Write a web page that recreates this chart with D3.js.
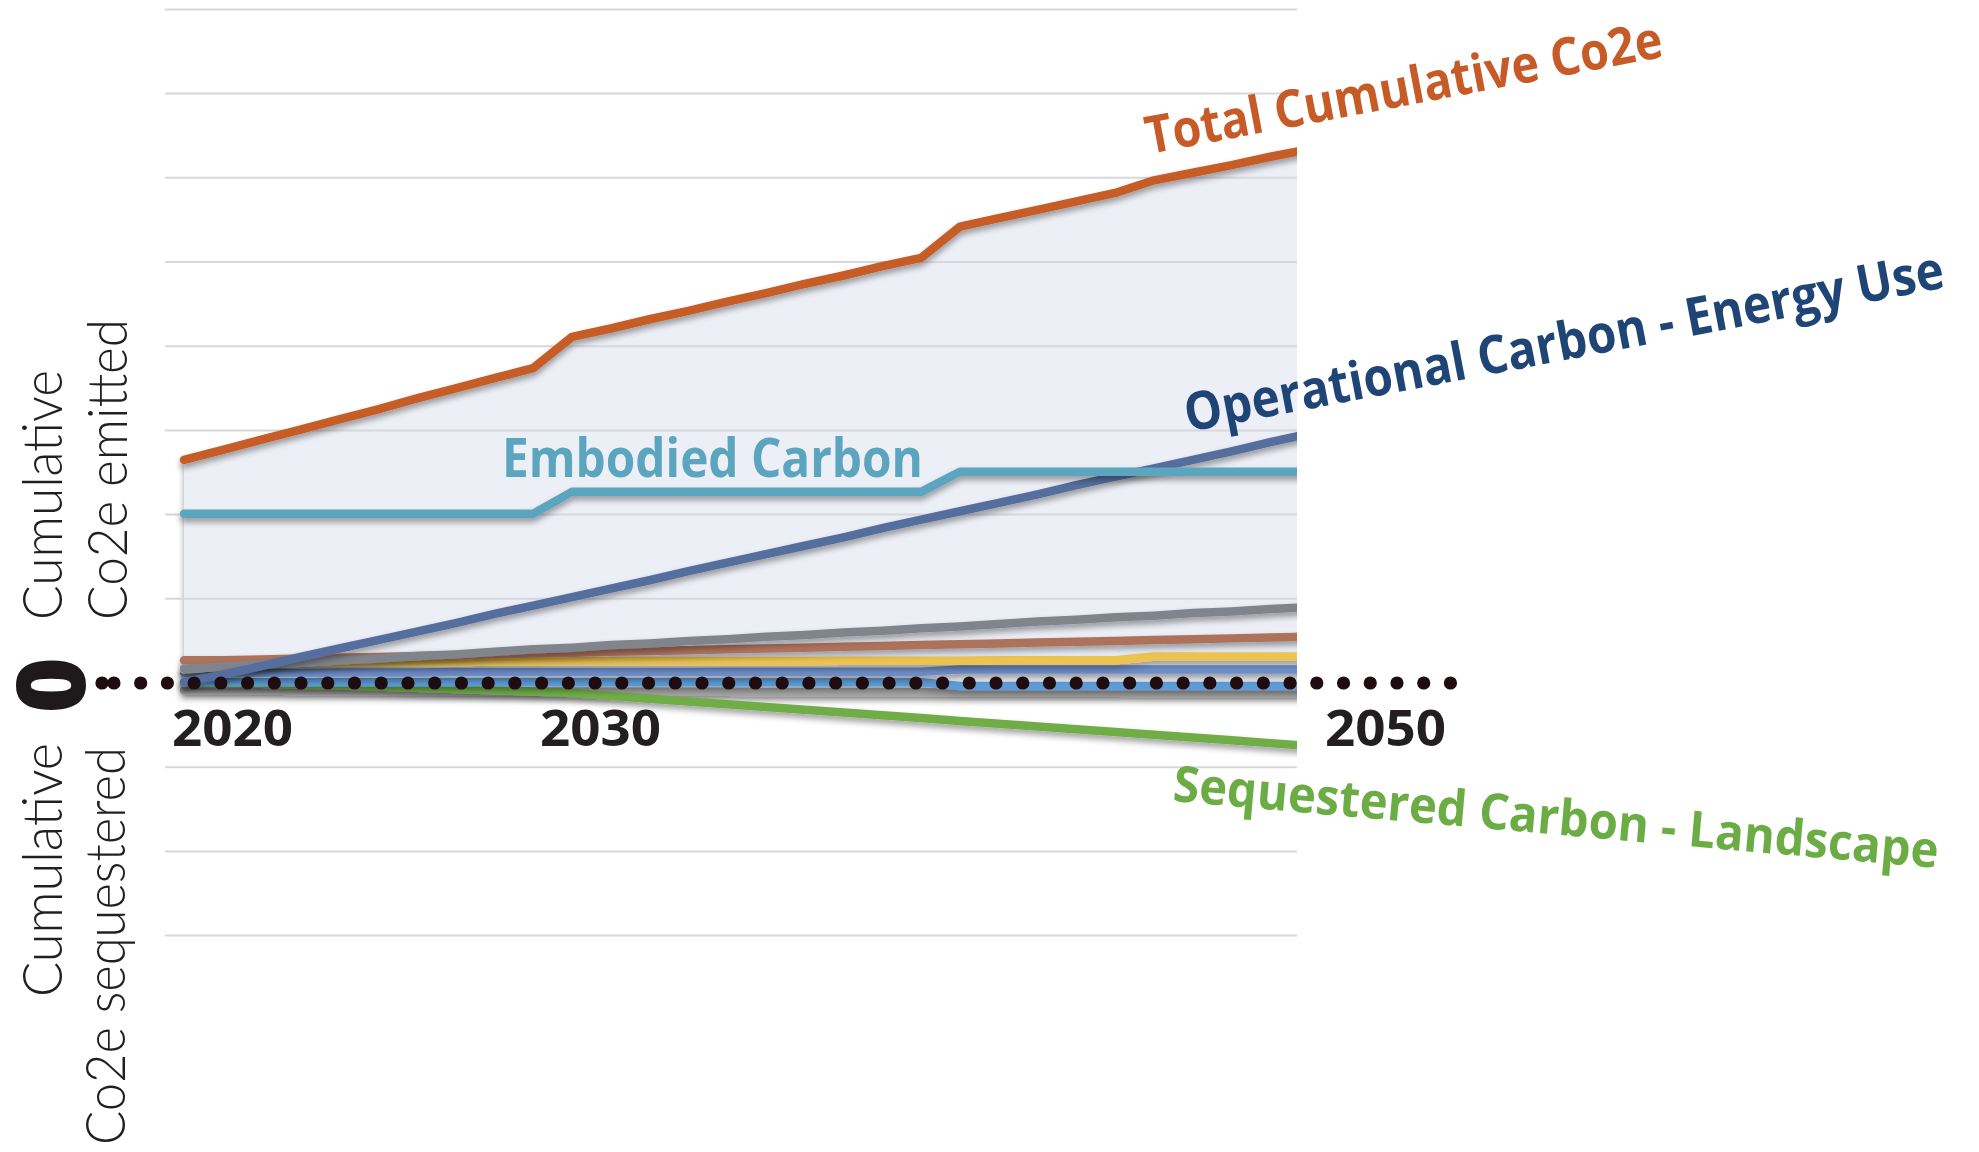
<!DOCTYPE html>
<html>
<head>
<meta charset="utf-8">
<script src="https://cdn.jsdelivr.net/npm/d3@7"></script>
<style>
  html, body { margin: 0; padding: 0; background: #ffffff; }
  svg { display: block; }
</style>
</head>
<body>
<svg id="chart" width="1979" height="1152"></svg>
<script>
// Yearly cumulative CO2e by source (arbitrary units, one gridline = 10)
const years = [2020, 2021, 2022, 2023, 2024, 2025, 2026, 2027, 2028, 2029,
               2030, 2031, 2032, 2033, 2034, 2035, 2036, 2037, 2038, 2039,
               2040, 2041, 2042, 2043, 2044, 2045, 2046, 2047, 2048, 2049];

const totalCumulative = [26.5, 27.7, 28.9, 30.1, 31.3, 32.5, 33.8, 35.0, 36.2, 37.4,
                         41.1, 42.1, 43.2, 44.2, 45.3, 46.3, 47.4, 48.4, 49.5, 50.5,
                         54.2, 55.2, 56.2, 57.2, 58.2, 59.7, 60.6, 61.5, 62.5, 63.4];

const embodiedCarbon = [20.1, 20.1, 20.1, 20.1, 20.1, 20.1, 20.1, 20.1, 20.1, 20.1,
                        22.7, 22.7, 22.7, 22.7, 22.7, 22.7, 22.7, 22.7, 22.7, 22.7,
                        25.1, 25.1, 25.1, 25.1, 25.1, 25.1, 25.1, 25.1, 25.1, 25.1];

const operationalEnergy = [0.1, 1.0, 2.0, 3.1, 4.1, 5.1, 6.1, 7.1, 8.2, 9.2,
                           10.2, 11.2, 12.2, 13.3, 14.3, 15.3, 16.3, 17.3, 18.4, 19.4,
                           20.4, 21.4, 22.4, 23.5, 24.5, 25.5, 26.5, 27.5, 28.6, 29.6];

const otherGray = [1.7, 1.9, 2.2, 2.4, 2.7, 2.9, 3.2, 3.4, 3.7, 4.0,
                   4.2, 4.5, 4.7, 5.0, 5.2, 5.5, 5.7, 6.0, 6.2, 6.5,
                   6.7, 7.0, 7.3, 7.5, 7.8, 8.0, 8.3, 8.5, 8.8, 9.0];

const otherBrown = [2.7, 2.7, 2.8, 2.9, 3.0, 3.1, 3.2, 3.3, 3.4, 3.5,
                    3.6, 3.7, 3.8, 3.9, 4.0, 4.1, 4.2, 4.3, 4.4, 4.5,
                    4.6, 4.7, 4.8, 4.9, 5.0, 5.1, 5.2, 5.3, 5.4, 5.5];

const otherYellow = [1.6, 2.0, 2.3, 2.4, 2.45, 2.5, 2.5, 2.5, 2.55, 2.55,
                     2.6, 2.6, 2.6, 2.6, 2.6, 2.6, 2.6, 2.65, 2.65, 2.65,
                     2.65, 2.7, 2.7, 2.7, 2.7, 3.15, 3.15, 3.15, 3.15, 3.15];

const otherBlue = [1.2, 1.2, 1.2, 1.2, 1.25, 1.25, 1.25, 1.3, 1.3, 1.3,
                   1.3, 1.3, 1.3, 1.3, 1.35, 1.35, 1.35, 1.35, 1.35, 1.35,
                   1.6, 1.6, 1.6, 1.6, 1.6, 1.6, 1.6, 1.6, 1.6, 1.6];

const otherLightBlue = [0.1, 0.1, 0.1, 0.1, 0.1, 0.1, 0.1, 0.1, 0.1, 0.1,
                        0.1, 0.1, 0.1, 0.1, 0.1, 0.1, 0.1, 0.1, 0.1, 0.1,
                        -0.35, -0.35, -0.35, -0.35, -0.35, -0.35, -0.35, -0.35, -0.35, -0.35];

const otherLightGray = [-0.9, -0.9, -0.9, -0.95, -0.95, -0.95, -1.0, -1.0, -1.0, -1.0,
                        -1.0, -1.05, -1.05, -1.05, -1.05, -1.1, -1.1, -1.1, -1.1, -1.1,
                        -1.15, -1.15, -1.15, -1.15, -1.15, -1.2, -1.2, -1.2, -1.2, -1.2];

const sequesteredLandscape = [0.0, -0.05, -0.1, -0.2, -0.3, -0.42, -0.56, -0.7, -0.85, -1.02,
                              -1.2, -1.53, -1.86, -2.19, -2.52, -2.85, -3.18, -3.51, -3.84, -4.17,
                              -4.5, -4.83, -5.16, -5.49, -5.82, -6.15, -6.48, -6.81, -7.14, -7.47];

const gridValues = [80, 70, 60, 50, 40, 30, 20, 10, -10, -20, -30];
const tickYears = ["2020", "2030", "2050"];

// ---------------------------------------------------------------------------
const svg = d3.select("#chart");

const x = d3.scaleLinear().domain([2020, 2049]).range([184, 1309.2]);
const y = d3.scaleLinear().domain([-30, 80]).range([935.6, 9.4]);
const plotRight = 1297;
const gridLeft = 165;

const defs = svg.append("defs");
defs.append("clipPath").attr("id", "plotClip")
  .append("rect").attr("x", 0).attr("y", 0).attr("width", plotRight).attr("height", 1152);

const shadow = defs.append("filter").attr("id", "shadow")
  .attr("filterUnits", "userSpaceOnUse")
  .attr("x", 0).attr("y", 0).attr("width", 1979).attr("height", 1152);
shadow.append("feGaussianBlur").attr("in", "SourceAlpha").attr("stdDeviation", 3).attr("result", "blur");
shadow.append("feOffset").attr("in", "blur").attr("dy", 4).attr("result", "off");
shadow.append("feComponentTransfer").attr("in", "off").attr("result", "soft")
  .append("feFuncA").attr("type", "linear").attr("slope", 0.38);
const merge = shadow.append("feMerge");
merge.append("feMergeNode").attr("in", "soft");
merge.append("feMergeNode").attr("in", "SourceGraphic");

const plot = svg.append("g").attr("clip-path", "url(#plotClip)");

// shaded envelope between the total and the lowest line
const area = d3.area()
  .x((d, i) => x(years[i]))
  .y0((d, i) => y(otherLightGray[i]))
  .y1(d => y(d));
plot.append("path")
  .datum(totalCumulative)
  .attr("d", area)
  .attr("fill", "#eceff6")
  .attr("filter", "url(#shadow)");

// horizontal gridlines
svg.append("g").selectAll("line")
  .data(gridValues)
  .join("line")
  .attr("x1", gridLeft).attr("x2", plotRight)
  .attr("y1", d => y(d)).attr("y2", d => y(d))
  .attr("stroke", "#d6d8dc")
  .attr("stroke-width", 2);

const line = d3.line().x((d, i) => x(years[i])).y(d => y(d));

const series = [
  { values: otherLightGray,       color: "#a5a5a5" },
  { values: sequesteredLandscape, color: "#6fad47" },
  { values: otherLightBlue,       color: "#5b9bd5" },
  { values: otherBlue,            color: "#6d8ec8" },
  { values: otherYellow,          color: "#edc34f" },
  { values: otherBrown,           color: "#ad725c" },
  { values: otherGray,            color: "#80848d" },
  { values: operationalEnergy,    color: "#546e9d" },
  { values: embodiedCarbon,       color: "#5ba5bf" },
  { values: totalCumulative,      color: "#c65b28" }
];

const lineGroup = svg.append("g").attr("clip-path", "url(#plotClip)");
lineGroup.selectAll("path")
  .data(series)
  .join("path")
  .attr("d", d => line(d.values))
  .attr("fill", "none")
  .attr("stroke", d => d.color)
  .attr("stroke-width", 8.5)
  .attr("stroke-linecap", "round")
  .attr("stroke-linejoin", "round")
  .attr("filter", "url(#shadow)");

// dotted zero baseline
const dotXs = d3.range(-2, 49).map(k => 167.4 + k * 26.73).concat([102]);
svg.append("g").selectAll("circle")
  .data(dotXs)
  .join("circle")
  .attr("cx", d => d)
  .attr("cy", y(0))
  .attr("r", 6.6)
  .attr("fill", "#1f0c10");

// big zero marker
svg.append("text")
  .attr("transform", `translate(85,${y(0) + 2}) rotate(-90)`)
  .attr("text-anchor", "middle")
  .attr("font-family", "'Open Sans', 'DejaVu Sans', sans-serif")
  .attr("font-weight", 800)
  .attr("font-size", 96)
  .attr("fill", "#1e1a1b")
  .text("0");

// vertical axis captions
const captionFont = "Lato, 'Open Sans', sans-serif";
const captions = [
  { text: "Cumulative",       bx: 62,  by: 620,  len: 250 },
  { text: "Co2e emitted",     bx: 127, by: 620,  len: 301 },
  { text: "Cumulative",       bx: 62,  by: 997,  len: 254 },
  { text: "Co2e sequestered", bx: 125, by: 1145, len: 398 }
];
svg.append("g").selectAll("text")
  .data(captions)
  .join("text")
  .attr("transform", d => `translate(${d.bx},${d.by}) rotate(-90)`)
  .attr("font-family", captionFont)
  .attr("font-weight", 300)
  .attr("font-size", 55)
  .attr("fill", "#231f20")
  .attr("textLength", d => d.len)
  .attr("lengthAdjust", "spacingAndGlyphs")
  .text(d => d.text);

// year labels
const tickShift = { "2020": -12, "2030": -32, "2050": -23 };
svg.append("g").selectAll("text")
  .data(tickYears)
  .join("text")
  .attr("x", d => x(+d) + tickShift[d])
  .attr("y", 746)
  .attr("font-family", "'Open Sans', sans-serif")
  .attr("font-weight", 700)
  .attr("font-size", 50)
  .attr("fill", "#231f20")
  .attr("textLength", 121)
  .attr("lengthAdjust", "spacingAndGlyphs")
  .text(d => d);

// series annotations
const titleFont = "'Open Sans', sans-serif";
const notes = [
  { text: "Total Cumulative Co2e",          color: "#c65b28", tx: 1149, ty: 154, rot: -10.7, len: 525, size: 52 },
  { text: "Operational Carbon - Energy Use", color: "#1f4576", tx: 1188, ty: 432, rot: -10.8, len: 772, size: 53 },
  { text: "Sequestered Carbon - Landscape", color: "#6bac45", tx: 1172, ty: 801, rot: 5.0,   len: 768, size: 50 },
  { text: "Embodied Carbon",                color: "#5ba5bf", tx: 502,  ty: 477, rot: 0,     len: 421, size: 54 }
];
svg.append("g").selectAll("text")
  .data(notes)
  .join("text")
  .attr("transform", d => `translate(${d.tx},${d.ty}) rotate(${d.rot})`)
  .attr("font-family", titleFont)
  .attr("font-weight", 700)
  .attr("font-size", d => d.size)
  .attr("fill", d => d.color)
  .attr("textLength", d => d.len)
  .attr("lengthAdjust", "spacingAndGlyphs")
  .text(d => d.text);
</script>
</body>
</html>
